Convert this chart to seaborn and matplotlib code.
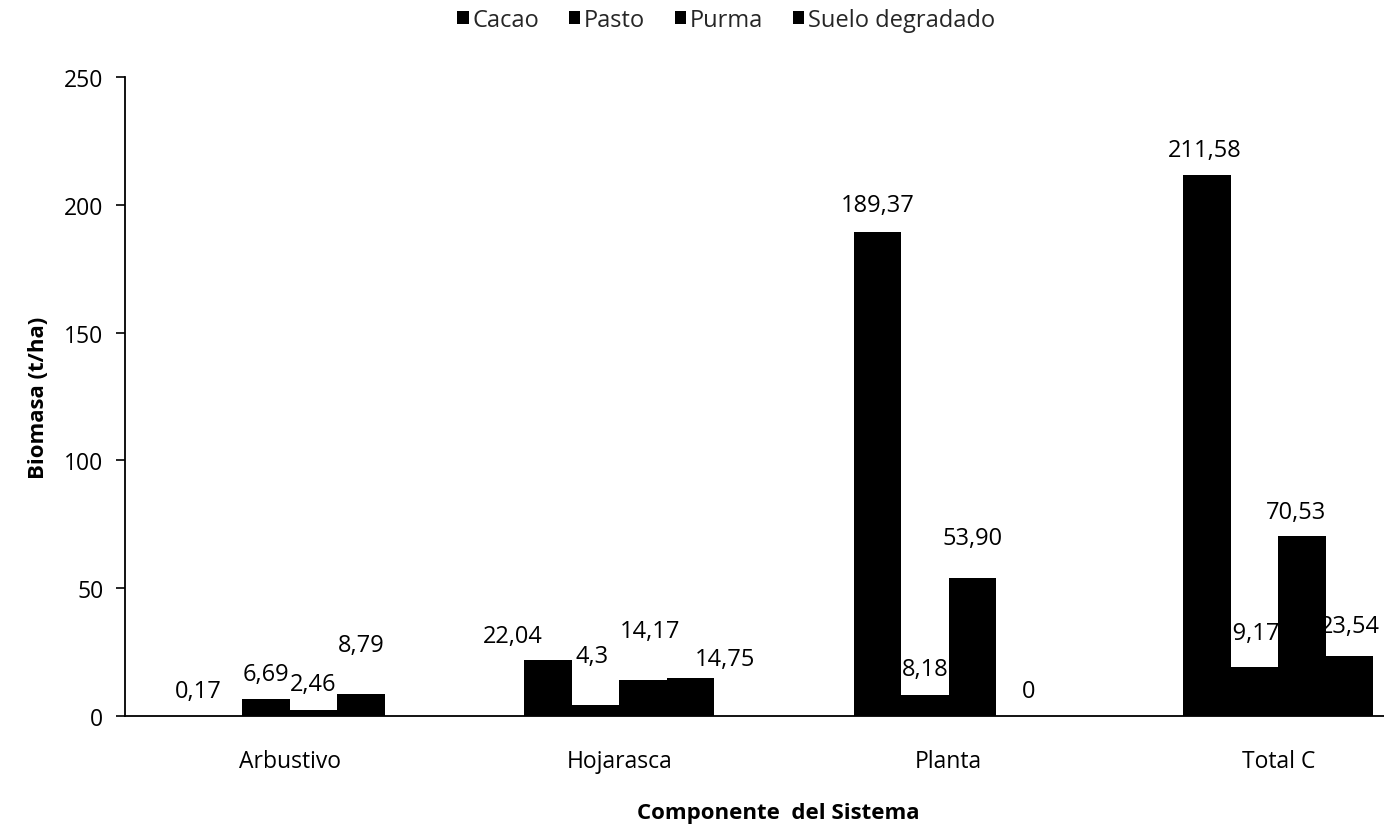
import matplotlib
matplotlib.use("Agg")
import matplotlib.pyplot as plt
from matplotlib.patches import Patch
import pandas as pd
import seaborn as sns

# Components of the system (x categories) and land-use systems (hue)
componentes = ["Arbustivo", "Hojarasca", "Planta", "Total C"]
sistemas = ["Cacao", "Pasto", "Purma", "Suelo degradado"]

# Biomass (t/ha) per system, in the order of `componentes`
cacao = [0.17, 22.04, 189.37, 211.58]
pasto = [6.69, 4.3, 8.18, 19.17]
purma = [2.46, 14.17, 53.90, 70.53]
suelo_degradado = [8.79, 14.75, 0, 23.54]

# Decimals shown in each value label
dec_cacao = [2, 2, 2, 2]
dec_pasto = [2, 1, 2, 2]
dec_purma = [2, 2, 2, 2]
dec_suelo = [2, 2, 0, 2]

y_ticks = [0, 50, 100, 150, 200, 250]

# Label nudges in pixels: (dx, height of label centre above the bar top)
nudge_cacao = [(-20, 25), (-35, 24), (0, 27), (-2, 25)]
nudge_pasto = [(0, 25), (-3, 49), (0, 26), (-4, 34)]
nudge_purma = [(0, 26), (7, 49), (0, 40), (-6, 24)]
nudge_suelo = [(0, 49), (34, 19), (9, 25), (0, 30)]

series = [cacao, pasto, purma, suelo_degradado]
decimals = [dec_cacao, dec_pasto, dec_purma, dec_suelo]
nudges = [nudge_cacao, nudge_pasto, nudge_purma, nudge_suelo]

rows = []
for sistema, vals in zip(sistemas, series):
    for comp, v in zip(componentes, vals):
        rows.append({"Componente": comp, "Sistema": sistema, "Biomasa": v})
df = pd.DataFrame(rows)

sns.set_theme(style="white")
plt.rcParams["font.family"] = ["Open Sans", "DejaVu Sans"]

W, H = 1384, 829
fig = plt.figure(figsize=(W / 100, H / 100), dpi=100)
ax = fig.add_axes([125 / W, 1 - 717 / H, 1318 / W, (717 - 78) / H])

sns.barplot(
    data=df, x="Componente", y="Biomasa", hue="Sistema",
    order=componentes, hue_order=sistemas,
    palette=["black"] * 4, saturation=1, width=0.577,
    edgecolor="none", linewidth=0, legend=False, ax=ax,
)

ax.set_xlim(-0.5, 3.5)
ax.set_ylim(0, 250)
ax.set_yticks(y_ticks)
ax.set_yticklabels([str(t) for t in y_ticks])
sns.despine(ax=ax)
for side in ("left", "bottom"):
    ax.spines[side].set_color("black")
    ax.spines[side].set_linewidth(1.3)

ax.tick_params(axis="y", which="major", left=True, length=6.5, width=1.2,
               color="black", labelsize=16.5, pad=9, labelcolor="black")
ax.tick_params(axis="x", which="major", bottom=False, length=0,
               labelsize=16.5, pad=24, labelcolor="black")

ax.set_ylabel("Biomasa (t/ha)", fontsize=16, fontweight="bold",
              color="black", labelpad=11)
ax.set_xlabel("Componente  del Sistema", fontsize=16, fontweight="bold",
              color="black", labelpad=21)
ax.xaxis.label.set_x((778 - 125) / 1318)

# Value labels above each bar
for container, vals, decs, nud in zip(ax.containers, series, decimals, nudges):
    for bar, v, d, (dx, dy) in zip(container, vals, decs, nud):
        txt = f"{v:.{d}f}".replace(".", ",")
        x = bar.get_x() + bar.get_width() / 2
        ax.annotate(txt, xy=(x, bar.get_height()),
                    xytext=(dx * 0.72, dy * 0.72), textcoords="offset points",
                    ha="center", va="center", fontsize=17, color="black",
                    zorder=5, annotation_clip=False)

handles = [Patch(facecolor="black", edgecolor="none") for _ in sistemas]
fig.legend(handles, sistemas, loc="center", bbox_to_anchor=(726 / W, 1 - 21 / H),
           ncol=4, frameon=False, fontsize=17, handlelength=0.5,
           handleheight=0.5, handletextpad=0.15, columnspacing=1.25,
           borderaxespad=0, borderpad=0)

fig.savefig("out.png", dpi=100)
